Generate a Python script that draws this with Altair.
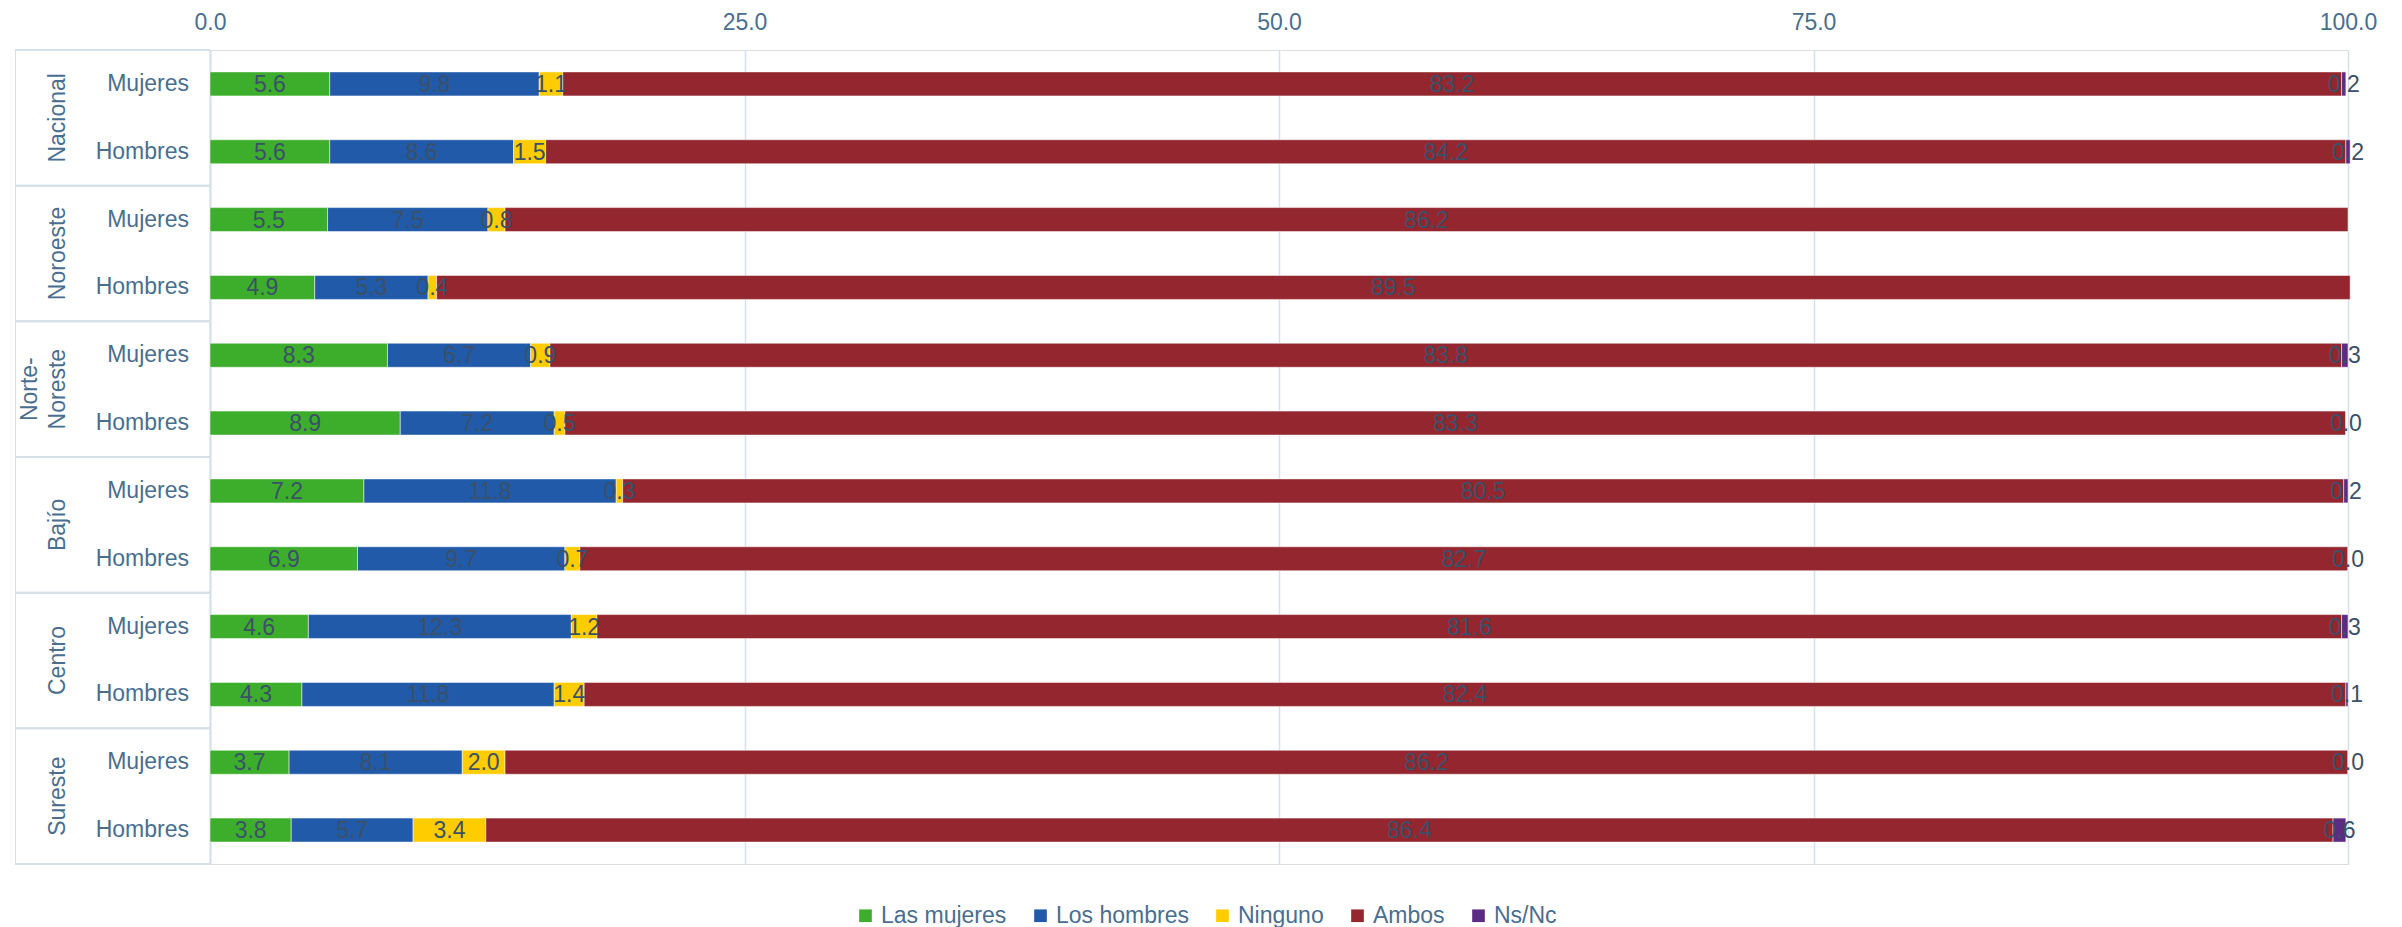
import altair as alt
import pandas as pd

regions = ["Nacional", "Noroeste", "Norte-Noreste", "Bajío", "Centro", "Sureste"]
region_line1 = ["", "", "Norte-", "", "", ""]
region_line2 = ["Nacional", "Noroeste", "Noreste", "Bajío", "Centro", "Sureste"]
sexes = ["Mujeres", "Hombres"]
categories = ["Las mujeres", "Los hombres", "Ninguno", "Ambos", "Ns/Nc"]
colors = ["#3dae2b", "#215aa8", "#ffcc00", "#93262e", "#5b2c82"]

# one value per row: Nacional M, Nacional H, Noroeste M, Noroeste H, ...
las_mujeres = [5.6, 5.6, 5.5, 4.9, 8.3, 8.9, 7.2, 6.9, 4.6, 4.3, 3.7, 3.8]
los_hombres = [9.8, 8.6, 7.5, 5.3, 6.7, 7.2, 11.8, 9.7, 12.3, 11.8, 8.1, 5.7]
ninguno = [1.1, 1.5, 0.8, 0.4, 0.9, 0.5, 0.3, 0.7, 1.2, 1.4, 2.0, 3.4]
ambos = [83.2, 84.2, 86.2, 89.5, 83.8, 83.3, 80.5, 82.7, 81.6, 82.4, 86.2, 86.4]
ns_nc = [0.2, 0.2, None, None, 0.3, 0.0, 0.2, 0.0, 0.3, 0.1, 0.0, 0.6]

series = [las_mujeres, los_hombres, ninguno, ambos, ns_nc]

FONT = "Liberation Sans"
AXC = "#4a6e8f"
TXT = "#3a5169"
GRID = "#d6e0ea"

rows = []
long = []
keys = []
i = 0
for r, reg in enumerate(regions):
    for sex in sexes:
        key = f"{i:02d}"
        keys.append(key)
        rows.append({"key": key, "region": reg, "sex": sex,
                     "line1": region_line1[r], "line2": region_line2[r]})
        for j, cat in enumerate(categories):
            v = series[j][i]
            if v is not None:
                long.append({"key": key, "cat": cat, "order": j, "value": v})
        i += 1

df_rows = pd.DataFrame(rows)
df_long = pd.DataFrame(long)

yscale = alt.Scale(domain=keys, paddingInner=0, paddingOuter=0)

W_LEFT = 195
W_PLOT = 2138
H = 814

# ---------- left header panel ----------
sex_text = alt.Chart(df_rows).mark_text(
    align="right", baseline="middle", fontSize=23, color=AXC, font=FONT
).encode(
    y=alt.Y("key:N", scale=yscale, axis=None),
    x=alt.value(174),
    text="sex:N",
)

region_text2 = alt.Chart(df_rows).transform_filter("datum.sex == 'Hombres'").mark_text(
    angle=270, align="center", baseline="bottom",
    fontSize=23, color=AXC, font=FONT
).encode(
    y=alt.Y("key:N", scale=yscale, axis=None, bandPosition=0),
    x=alt.value(55),
    text="line2:N",
)

region_text1 = alt.Chart(df_rows).transform_filter(
    "datum.sex == 'Hombres' && datum.line1 != ''"
).mark_text(
    angle=270, align="center", baseline="bottom",
    fontSize=23, color=AXC, font=FONT
).encode(
    y=alt.Y("key:N", scale=yscale, axis=None, bandPosition=0),
    x=alt.value(27),
    text="line1:N",
)

rule_top = alt.Chart(df_rows).transform_filter("datum.sex == 'Mujeres'").mark_rule(
    color=GRID, strokeWidth=2
).encode(y=alt.Y("key:N", scale=yscale, axis=None, bandPosition=0))

rule_bot = alt.Chart(df_rows).transform_filter("datum.sex == 'Hombres'").mark_rule(
    color=GRID, strokeWidth=2
).encode(y=alt.Y("key:N", scale=yscale, axis=None, bandPosition=1))

left = alt.layer(rule_top, rule_bot, sex_text, region_text2, region_text1).properties(
    width=W_LEFT, height=H
)

# ---------- main plot ----------
base = alt.Chart(df_long).transform_stack(
    stack="value", groupby=["key"], as_=["x0", "x1"],
    sort=[alt.SortField(field="order", order="ascending")],
)

yenc = alt.Y(
    "key:N", scale=yscale,
    axis=alt.Axis(title=None, labels=False, ticks=False, domain=True,
                  domainColor=GRID, domainWidth=2, grid=False),
)

bars = base.mark_bar(size=24, stroke="white", strokeWidth=1, strokeOpacity=0.5).encode(
    y=yenc,
    x=alt.X(
        "x0:Q",
        scale=alt.Scale(domain=[0, 100], nice=False),
        axis=alt.Axis(
            orient="top", values=[0, 25, 50, 75, 100], format=".1f", title=None,
            grid=True, gridColor=GRID, gridWidth=1.5, ticks=False, tickSize=0,
            domain=False, labelFontSize=23, labelColor=AXC, labelFont=FONT,
            labelPadding=16, labelFlush=False, labelOverlap=False,
        ),
    ),
    x2="x1:Q",
    color=alt.Color(
        "cat:N",
        scale=alt.Scale(domain=categories, range=colors),
        legend=alt.Legend(
            title=None, orient="none", legendX=839, legendY=854,
            direction="horizontal", symbolType="square", symbolSize=160,
            symbolStrokeWidth=0, labelFontSize=23, labelColor=AXC, labelFont=FONT,
            columnPadding=22, labelOffset=4,
        ),
    ),
    order=alt.Order("order:Q"),
)

labels = base.transform_calculate(
    mid="(datum.x0 + datum.x1) / 2",
    label="format(datum.value, '.1f')",
).mark_text(
    align="center", baseline="middle", fontSize=23, color=TXT, font=FONT, dy=1
).encode(
    y=yenc,
    x=alt.X("mid:Q"),
    text="label:N",
)

right = alt.layer(bars, labels).properties(width=W_PLOT, height=H)

chart = alt.hconcat(left, right, spacing=0, bounds="flush").properties(
    padding={"left": 5, "top": 2, "right": 5, "bottom": 5}
).configure_view(
    stroke="transparent"
).configure(font=FONT)

chart.save("out.html", embed_options={"renderer": "svg", "actions": False})
